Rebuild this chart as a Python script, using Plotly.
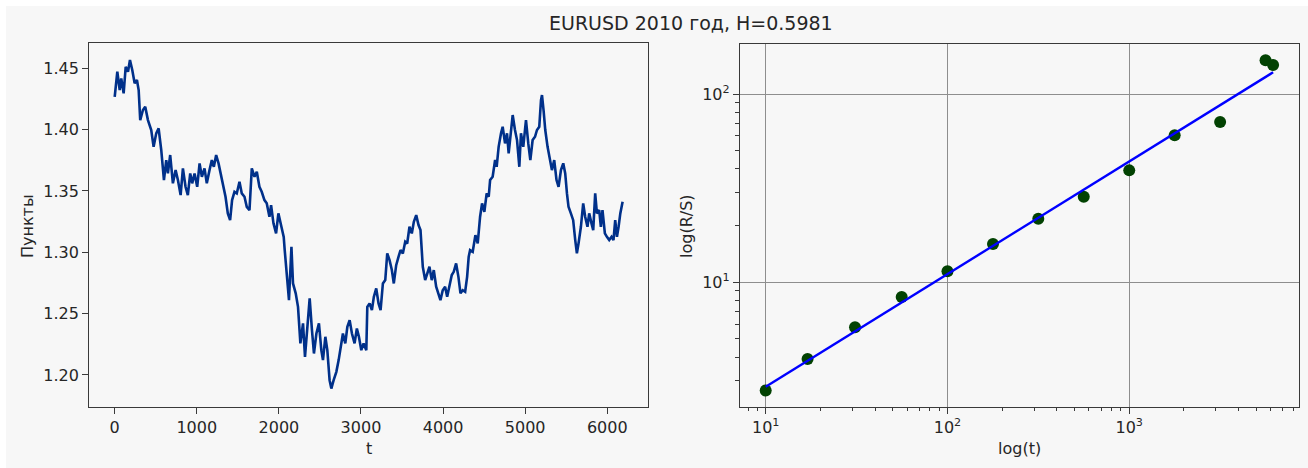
import numpy as np
import plotly.graph_objects as go

W, H = 1308, 468

# ---- EURUSD 2010, price path (bar index t -> quote) ----
t_idx = [0, 32, 61, 80, 109, 134, 162, 186, 214, 243, 271, 292, 311, 344, 372, 405, 445, 474, 506, 535,
         567, 600, 628, 648, 676, 709, 742, 770, 803, 831, 863, 891, 920, 944, 973, 1005, 1034, 1062, 1094, 1122,
         1155, 1183, 1208, 1236, 1265, 1296, 1326, 1350, 1378, 1406, 1430, 1459, 1487, 1520, 1548, 1581, 1609, 1642,
         1670, 1703, 1731, 1763, 1791, 1824, 1852, 1885, 1905, 1934, 1966, 1994, 2026, 2059,
         2071, 2099, 2123, 2153, 2172, 2205, 2233, 2262, 2294, 2318, 2347, 2375, 2403, 2427, 2457, 2488, 2517, 2537,
         2566, 2590, 2618, 2639, 2667, 2700, 2728, 2752, 2780, 2809, 2834, 2862, 2890, 2922, 2950, 2975, 3004, 3032,
         3065, 3077, 3105, 3133, 3157, 3186, 3214, 3239, 3267, 3296, 3320, 3348, 3376, 3400, 3429, 3457, 3482, 3510,
         3539, 3563, 3591, 3619, 3644, 3673, 3701, 3725, 3753, 3782, 3806, 3834, 3862, 3887, 3916, 3944, 3968, 3996,
         4025, 4050, 4078, 4106, 4130, 4159, 4187, 4212, 4239, 4269, 4293, 4312,
         4329, 4361, 4394, 4422, 4451, 4475, 4503, 4531, 4556, 4573, 4604, 4634, 4653, 4677, 4706, 4726, 4755, 4779,
         4799, 4828, 4848, 4876, 4901, 4929, 4949, 4977, 5010, 5038, 5063, 5091, 5120, 5144, 5172, 5193, 5205, 5224,
         5245, 5273, 5302, 5326, 5354, 5382, 5407, 5436, 5464, 5488, 5509, 5528, 5557, 5585, 5610, 5630, 5650, 5679,
         5707, 5731, 5759, 5780, 5808, 5829, 5853, 5874, 5902, 5922, 5942, 5971, 5996, 6024, 6052, 6076, 6097, 6118,
         6138, 6159, 6187]
price = [1.4268, 1.4472, 1.4323, 1.4418, 1.4296, 1.4513, 1.4472, 1.4568, 1.4486, 1.4378, 1.4405, 1.4323, 1.4078,
         1.4160, 1.4187, 1.4078, 1.3997, 1.3860, 1.3970, 1.4010, 1.3834, 1.3589, 1.3752, 1.3643, 1.3793, 1.3562,
         1.3670, 1.3589, 1.3466, 1.3684, 1.3534, 1.3466, 1.3643, 1.3562, 1.3643, 1.3534, 1.3725, 1.3616, 1.3684,
         1.3562, 1.3670, 1.3752, 1.3697, 1.3793, 1.3725, 1.3616, 1.3521, 1.3453, 1.3317, 1.3262, 1.3426, 1.3493,
         1.3480, 1.3575, 1.3480, 1.3453, 1.3371, 1.3344, 1.3684, 1.3616, 1.3657, 1.3534, 1.3493, 1.3426, 1.3399,
         1.3289, 1.3385, 1.3236, 1.3154, 1.3317, 1.3222, 1.3126,
         1.3018, 1.2800, 1.2610, 1.3045, 1.2746, 1.2665, 1.2555, 1.2257, 1.2420, 1.2147, 1.2392, 1.2624, 1.2365,
         1.2175, 1.2338, 1.2420, 1.2202, 1.2121, 1.2311, 1.2202, 1.1957, 1.1889, 1.1957, 1.2025, 1.2121, 1.2229,
         1.2338, 1.2257, 1.2392, 1.2447, 1.2338, 1.2257, 1.2379, 1.2311, 1.2202, 1.2257, 1.2202, 1.2555, 1.2583,
         1.2528, 1.2637, 1.2705, 1.2583, 1.2528, 1.2746, 1.2773, 1.2991, 1.2936, 1.2855, 1.2746, 1.2895, 1.2963,
         1.3018, 1.2991, 1.3086, 1.3072, 1.3208, 1.3154, 1.3249, 1.3303, 1.3222, 1.3181, 1.2882, 1.2773, 1.2828,
         1.2882, 1.2773, 1.2855, 1.2719, 1.2665, 1.2610, 1.2691, 1.2719, 1.2637, 1.2719, 1.2814, 1.2841, 1.2909,
         1.2800, 1.2665, 1.2691, 1.2678, 1.2800, 1.2963,
         1.3018, 1.3004, 1.3140, 1.3072, 1.3290, 1.3399, 1.3330, 1.3480, 1.3453, 1.3589, 1.3616, 1.3752, 1.3697,
         1.3860, 1.3970, 1.4024, 1.3888, 1.3970, 1.3807, 1.4024, 1.4119, 1.3997, 1.3915, 1.3697, 1.3970, 1.3860,
         1.4078, 1.3888, 1.3752, 1.3915, 1.3942, 1.3997, 1.4024, 1.4241, 1.4282, 1.4160, 1.3997, 1.3860, 1.3752,
         1.3670, 1.3752, 1.3589, 1.3534, 1.3670, 1.3725, 1.3643, 1.3480, 1.3371, 1.3317, 1.3262, 1.3100, 1.2991,
         1.3072, 1.3208, 1.3399, 1.3290, 1.3208, 1.3317, 1.3236, 1.3181, 1.3480, 1.3317, 1.3344, 1.3208, 1.3344,
         1.3154, 1.3126, 1.3100, 1.3126, 1.3100, 1.3262, 1.3126, 1.3208, 1.3317, 1.3412]

# ---- R/S analysis: window sizes and rescaled ranges ----
rs_window = [10, 17, 31, 56, 100, 178, 316, 562, 1000, 1778, 3162, 5623, 6187]
rs_value = [2.66, 3.92, 5.77, 8.36, 11.44, 15.97, 21.77, 28.5, 39.3, 60.3, 71.0, 151.0, 142.6]

# fitted line log10(R/S) = c + H*log10(t)
hurst = 0.5981
fit_c = -0.1525

title_text = f"EURUSD 2010 год, H={hurst}"
left_xticks = [0, 1000, 2000, 3000, 4000, 5000, 6000]
left_yticks = [1.20, 1.25, 1.30, 1.35, 1.40, 1.45]

FONT = "DejaVu Sans"
BG = "#f7f7f7"
INK = "#262626"
SPINE = "#3a3a3a"


def px_x(p):
    return p / W


def px_y(p):
    return 1 - p / H


fig = go.Figure()

# price path
fig.add_trace(go.Scatter(
    x=t_idx, y=price, mode="lines",
    line=dict(color="#00308a", width=2.6),
    xaxis="x", yaxis="y", showlegend=False, hoverinfo="skip"))

# R/S points
fig.add_trace(go.Scatter(
    x=rs_window, y=rs_value, mode="markers",
    marker=dict(color="#024202", size=12, line=dict(width=0)),
    xaxis="x2", yaxis="y2", showlegend=False))

# fitted power law
fit_t = np.array([min(rs_window), max(rs_window)], dtype=float)
fit_rs = 10 ** (fit_c + hurst * np.log10(fit_t))
fig.add_trace(go.Scatter(
    x=fit_t, y=fit_rs, mode="lines",
    line=dict(color="#0000ff", width=2.4),
    xaxis="x2", yaxis="y2", showlegend=False))

# axis extents (5% padding around the price path)
n_last = max(t_idx)
x_pad = 0.05 * n_last
left_xrange = [-x_pad, n_last + x_pad]
left_yrange = [1.1741, 1.4704]

# log axes: decades and minor ticks
log_xrange = [0.8586, 3.9356]
log_yrange = [0.3394, 2.2655]


def minor_vals(lo, hi):
    vals = []
    for k in range(int(np.floor(lo)) - 1, int(np.ceil(hi)) + 1):
        for d in range(2, 10):
            v = d * 10.0 ** k
            if lo <= np.log10(v) <= hi:
                vals.append(v)
    return vals


def sup_label(e):
    return f"10<sup>{e}</sup>"


common = dict(
    showline=True, mirror=True, linecolor=SPINE, linewidth=1.3,
    ticks="outside", ticklen=6, tickwidth=1.2, tickcolor=SPINE,
    tickfont=dict(family=FONT, size=16, color=INK),
    zeroline=False,
)

fig.update_layout(
    width=W, height=H,
    margin=dict(l=0, r=0, t=0, b=0),
    paper_bgcolor="white",
    plot_bgcolor="rgba(0,0,0,0)",
    font=dict(family=FONT, color=INK),
    xaxis=dict(domain=[px_x(89.3), px_x(648)], anchor="y", range=left_xrange,
               tickvals=left_xticks, ticktext=[str(v) for v in left_xticks],
               showgrid=False, **common),
    yaxis=dict(domain=[px_y(406.7), px_y(43.3)], anchor="x", range=left_yrange,
               tickvals=left_yticks, ticktext=[f"{v:.2f}" for v in left_yticks],
               showgrid=False, **common),
    xaxis2=dict(domain=[px_x(740), px_x(1299.3)], anchor="y2", type="log", range=log_xrange,
                tickvals=[10, 100, 1000], ticktext=[sup_label(1), sup_label(2), sup_label(3)],
                showgrid=True, gridcolor="#8e8e8e", gridwidth=1,
                minor=dict(tickmode="array", tickvals=minor_vals(*log_xrange), ticks="outside",
                           ticklen=3.5, tickwidth=1, tickcolor=SPINE, showgrid=False),
                **common),
    yaxis2=dict(domain=[px_y(406.7), px_y(44)], anchor="x2", type="log", range=log_yrange,
                tickvals=[10, 100], ticktext=[sup_label(1), sup_label(2)],
                showgrid=True, gridcolor="#8e8e8e", gridwidth=1,
                minor=dict(tickmode="array", tickvals=minor_vals(*log_yrange), ticks="outside",
                           ticklen=3.5, tickwidth=1, tickcolor=SPINE, showgrid=False),
                **common),
    shapes=[dict(type="rect", xref="paper", yref="paper", layer="below",
                 x0=px_x(6), x1=1, y0=0, y1=px_y(6),
                 fillcolor=BG, line=dict(width=0))],
)

ann_font = dict(family=FONT, size=16, color=INK)
fig.add_annotation(text=title_text, xref="paper", yref="paper", x=px_x(691), y=px_y(23),
                   showarrow=False, xanchor="center", yanchor="middle",
                   font=dict(family=FONT, size=19, color=INK))
fig.add_annotation(text="Пункты", xref="paper", yref="paper", x=px_x(27), y=px_y(226),
                   textangle=-90, showarrow=False, xanchor="center", yanchor="middle", font=ann_font)
fig.add_annotation(text="t", xref="paper", yref="paper", x=px_x(368.5), y=px_y(448),
                   showarrow=False, xanchor="center", yanchor="middle", font=ann_font)
fig.add_annotation(text="log(R/S)", xref="paper", yref="paper", x=px_x(686), y=px_y(226),
                   textangle=-90, showarrow=False, xanchor="center", yanchor="middle", font=ann_font)
fig.add_annotation(text="log(t)", xref="paper", yref="paper", x=px_x(1019.5), y=px_y(448),
                   showarrow=False, xanchor="center", yanchor="middle", font=ann_font)

fig.write_html("out.html")
